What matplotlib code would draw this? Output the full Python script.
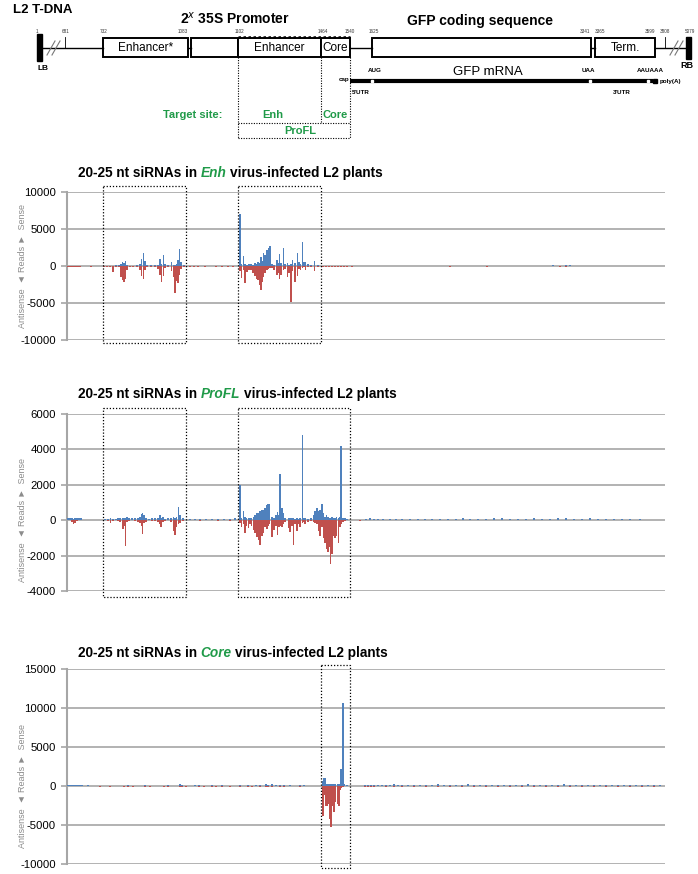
import matplotlib
matplotlib.use("Agg")
from matplotlib import pyplot as plt
from matplotlib.patches import Rectangle

plt.rcParams['font.family'] = ['Liberation Sans', 'DejaVu Sans']

BLUE = '#4f81bd'
RED = '#c0504d'
GREEN = '#1f9a48'
GRID = '#a6a6a6'

# map column along the T-DNA schematic, sense reads, antisense reads
enh_x = [68, 70, 72, 74, 76, 78, 80, 85, 91,
         104, 107, 110, 112.7, 116, 119, 121, 122.5, 124, 125.5, 127, 130, 133, 137, 140, 141.7, 143.3,
         145, 147, 151, 155, 158, 160, 161.7, 163.3, 165, 168, 171.7, 173.5, 175, 176.5, 178, 179.3, 181, 184,
         190, 194, 198, 205, 210, 216, 222, 228, 233,
         240, 241.7, 243.3, 245, 247, 249, 251, 253, 255, 256.7, 258, 259.3, 260.7, 262, 263.5, 265, 266.7,
         268.3, 270, 272, 274, 276.7, 278, 279.3, 281, 283.3, 285, 287.3, 289, 290.7, 292.5, 295, 297.3, 299,
         300.5, 302.3, 304, 305.5, 308, 311, 314.3, 318,
         323, 326, 329, 332, 335, 338, 341, 344, 347, 352, 358, 363, 370, 383, 400, 412, 425, 438, 450, 460,
         475, 487, 502, 512, 525, 540, 553, 560, 566, 570, 580, 590]
enh_sense = [0, 0, 0, 0, 0, 0, 0, 0, 0,
             0, 60, 0, 0, 80, 100, 300, 500, 350, 680, 200, 0, 60, 100, 300, 1000, 1700,
             700, 200, 80, 100, 200, 900, 300, 1500, 300, 100, 600, 200, 150, 300, 800, 2250, 500, 100,
             0, 0, 0, 0, 0, 0, 0, 0, 0,
             7000, 300, 1400, 300, 150, 250, 300, 200, 400, 250, 600, 400, 1250, 700, 1700, 1500, 2150,
             2400, 2700, 300, 200, 800, 400, 1600, 400, 2500, 300, 400, 200, 300, 800, 400, 1700, 500,
             300, 3300, 500, 600, 300, 100, 700, 100,
             0, 0, 0, 0, 0, 0, 0, 0, 0, 0, 60, 0, 60, 50, 60, 0, 50, 60, 0, 60,
             50, 0, 60, 40, 0, 60, 100, 60, 120, 80, 60, 50]
enh_anti = [-120, -120, -120, -120, -120, -100, -100, -60, -80,
            -80, -100, -150, -770, -100, -200, -1500, -1900, -2100, -1800, -600, -100, -150, -200, -600, -1400, -1700,
            -500, -150, -100, -150, -400, -1200, -2200, -1300, -300, -200, -700, -1500, -3700, -2000, -2350, -1200, -400, -100,
            -100, -120, -80, -100, -60, -100, -80, -100, -80,
            -700, -1600, -600, -2300, -800, -500, -600, -1000, -1300, -1800, -1900, -2500, -3200, -2200, -1500, -900, -600,
            -400, -300, -300, -500, -1200, -900, -1800, -1200, -600, -400, -1500, -1000, -4800, -700, -2100, -1300, -400,
            -500, -300, -200, -500, -200, -100, -700, -100,
            -150, -150, -150, -150, -150, -150, -150, -150, -100, -100, 0, -60, 0, -40, 0, -60, -50, 0, -80, -60,
            0, -80, 0, -40, -60, 0, -60, -80, -100, -60, -40, 0]

profl_x = [68, 70, 72, 73.5, 75, 77, 79, 81,
           105, 108, 110.5, 113, 116, 118, 120, 122.7, 124, 125.3, 126.7, 129, 132, 135, 138, 140, 141.7,
           142.7, 144, 146, 149, 152, 155, 158, 160, 161, 163, 165, 168, 171, 173.3, 175, 176.5, 178.3, 180, 183,
           190, 195, 200, 206, 212, 218, 224, 230, 235,
           240, 241.7, 243.3, 245, 246.7, 248.3, 250, 251.7, 253.3, 255, 256.7, 258.3, 260, 261.7, 263.3, 265,
           266.7, 268, 269.3, 271.7, 274, 275.7, 277.3, 278.7, 280, 281.7, 283.3, 285, 288.3, 290, 291.7, 293.3,
           295, 296.7, 298.5, 300, 302.3, 304, 305, 308, 311, 313.3, 315, 316.7, 318.3, 320, 321.7, 323.3, 325,
           326.5, 328, 329.3, 330.5, 332, 333.5, 335, 336.5, 338.3, 340, 341, 343, 345, 347,
           360, 366, 370, 374, 378, 383, 390, 396, 402, 410, 418, 425, 432, 440, 448, 456, 463, 470, 478, 486,
           494, 502, 510, 518, 526, 534, 542, 550, 558, 566, 574, 582, 590, 598, 606, 614, 622, 630, 640]
profl_sense = [100, 100, 100, 80, 100, 100, 100, 100,
               60, 80, 100, 60, 80, 100, 100, 150, 120, 150, 190, 100, 100, 120, 150, 200, 350,
               410, 300, 150, 80, 100, 120, 150, 280, 150, 200, 80, 100, 150, 200, 150, 200, 750, 300, 100,
               60, 80, 60, 50, 70, 50, 60, 80, 100,
               2000, 150, 530, 200, 150, 100, 150, 150, 190, 300, 380, 400, 500, 550, 600, 700,
               840, 900, 940, 200, 150, 300, 470, 300, 2600, 670, 400, 150, 120, 100, 150, 100,
               80, 100, 80, 100, 4800, 100, 100, 60, 100, 300, 500, 700, 500, 600, 940, 400, 200,
               300, 200, 150, 150, 200, 100, 150, 200, 150, 200, 4200, 150, 100, 80,
               0, 80, 100, 60, 80, 60, 50, 60, 80, 60, 50, 60, 80, 50, 70, 90, 100, 80, 60, 80,
               100, 120, 80, 60, 80, 100, 60, 80, 120, 100, 80, 60, 100, 60, 80, 60, 50, 60, 50]
profl_anti = [0, 0, -100, -190, -150, -60, 0, 0,
              0, -50, -150, -60, 0, -50, -80, -470, -300, -1460, -100, -50, 0, -60, -100, -150, -300,
              -790, -150, -80, 0, -50, -60, -80, -200, -410, -100, -50, 0, -100, -620, -850, -400, -200, -150, -50,
              0, 0, -30, 0, 0, -30, 0, -30, 0,
              -150, -380, -200, -730, -300, -450, -200, -300, -560, -730, -940, -1130, -1400, -900, -700, -400,
              -500, -300, -200, -940, -560, -300, -850, -400, -300, -400, -200, -100, -450, -680, -300, -1400,
              -200, -600, -200, -400, -150, -100, -200, -100, -50, -100, -150, -200, -600, -900, -400, -1000, -1300,
              -1600, -1800, -1500, -2500, -1900, -900, -1000, -900, -1300, -400, -200, -100, -50, 0,
              -40, 0, 0, 0, 0, 0, 0, 0, 0, 0, 0, 0, 0, 0, 0, 0, 0, 0, 0, 0,
              0, 0, 0, 0, 0, 0, 0, 0, 0, 0, 0, 0, 0, 0, 0, 0, 0, 0, 0]

core_x = [68, 70, 72, 74, 76, 78, 80, 82, 88, 100, 110, 116, 124, 128, 133, 140, 145, 150, 160, 164, 168,
          173, 180, 182, 186, 195, 199, 204, 208, 212, 216, 222, 230, 236, 240, 244, 248, 252, 256, 260, 266,
          268, 272, 276, 280, 284, 290, 296, 300, 304, 310, 316,
          322.7, 324, 325.3, 326.7, 328.3, 330, 331.2, 332.5, 334, 335.5, 337.3, 339, 340.2, 341, 342.7, 344.5, 347,
          365, 368, 371, 374, 378, 382, 386, 390, 394, 398, 402, 408, 414, 420, 426, 432, 438, 444, 450, 456,
          462, 468, 474, 480, 486, 492, 498, 504, 510, 516, 522, 528, 534, 540, 546, 552, 558, 564, 570, 576,
          582, 588, 594, 600, 606, 612, 618, 624, 630, 636, 642, 648, 654, 660]
core_sense = [150, 150, 150, 150, 150, 150, 150, 150, 80, 0, 50, 60, 0, 80, 0, 60, 80, 0, 60, 0, 100,
              0, 200, 150, 0, 80, 100, 0, 60, 100, 0, 100, 0, 60, 150, 60, 100, 0, 80, 150, 200,
              150, 200, 100, 150, 80, 100, 60, 150, 100, 0, 50,
              700, 990, 990, 300, 250, 300, 250, 250, 300, 250, 300, 300, 250, 2150, 10600, 200, 150,
              150, 150, 150, 100, 150, 120, 150, 150, 200, 150, 120, 150, 180, 150, 120, 150, 200, 150, 120, 150,
              150, 200, 150, 150, 120, 150, 180, 150, 150, 120, 150, 200, 150, 150, 120, 150, 150, 200, 150, 150,
              120, 150, 150, 150, 120, 150, 150, 120, 150, 150, 120, 150, 150, 120]
core_anti = [-50, -50, -50, -50, -50, -50, -60, -60, 0, -100, -80, 0, -100, -80, -100, 0, -100, -100, -60, -100, -80,
             -60, -100, -100, -80, -60, -100, -80, 0, -80, -80, -80, -100, -60, -100, 0, -100, -100, -60, -120, -100,
             -100, -100, -60, -150, -80, -60, -60, -100, 0, -60, -50,
             -3900, -1200, -2500, -2600, -2300, -4200, -5200, -2600, -3300, -2000, -2300, -2600, -500, -200, -100, -50, 0,
             -80, -100, -80, -80, -60, -60, -80, -60, -80, -60, -80, -60, -80, -60, -80, -60, -80, -60, -80, -60,
             -80, -60, -80, -60, -80, -60, -80, -60, -80, -60, -80, -60, -80, -60, -80, -60, -80, -60, -80, -60,
             -80, -60, -80, -60, -80, -60, -80, -60, -80, -60, -80, -60, -80, -60]

panels = [
    # name, x, sense, antisense, ticks, top px, bottom px, title px, boxes (x0, x1, y0, y1)
    ('Enh', enh_x, enh_sense, enh_anti, [-10000, -5000, 0, 5000, 10000], 192, 340, 173,
     [(103, 186, 186, 343), (238, 321, 186, 343)]),
    ('ProFL', profl_x, profl_sense, profl_anti, [-4000, -2000, 0, 2000, 4000, 6000], 414, 591, 394,
     [(103, 186, 408, 597), (238, 350, 408, 597)]),
    ('Core', core_x, core_sense, core_anti, [-10000, -5000, 0, 5000, 10000, 15000], 669, 864, 653,
     [(321, 350, 665, 868)]),
]

W, H = 698, 874
fig = plt.figure(figsize=(W / 100, H / 100), dpi=100)

for name, xs, sense, anti, ticks, top, bot, ty, boxes in panels:
    ax = fig.add_axes([67 / W, 1 - bot / H, (665 - 67) / W, (bot - top) / H])
    ax.bar(xs, sense, width=1.6, color=BLUE, linewidth=0, zorder=3)
    ax.bar(xs, anti, width=1.6, color=RED, linewidth=0, zorder=3)
    ax.set_xlim(67, 665)
    ax.set_ylim(ticks[0], ticks[-1])
    ax.set_yticks(ticks)
    ax.set_yticklabels([str(t) for t in ticks], fontsize=8.2)
    ax.yaxis.grid(True, color=GRID, linewidth=1.2, zorder=0)
    ax.set_axisbelow(True)
    ax.set_xticks([])
    for s in ['top', 'right', 'bottom']:
        ax.spines[s].set_visible(False)
    ax.spines['left'].set_color(GRID)
    ax.spines['left'].set_linewidth(1.5)
    ax.tick_params(axis='y', length=4, color=GRID, width=1.2, pad=4)
    ax.set_facecolor('none')

# overlay in pixel coordinates for the schematic, titles and boxes
ov = fig.add_axes([0, 0, 1, 1])
ov.set_xlim(0, W)
ov.set_ylim(H, 0)
ov.axis('off')
ov.patch.set_alpha(0)

renderer = fig.canvas.get_renderer()


def write_title(y, name):
    x = 78
    parts = [('20-25 nt siRNAs in', 'black', 'normal'), (name, GREEN, 'italic'),
             ('virus-infected L2 plants', 'black', 'normal')]
    for s, c, st in parts:
        t = ov.text(x, y, s, color=c, style=st, fontweight='bold', fontsize=9.8, va='center', ha='left')
        bb = t.get_window_extent(renderer)
        x += bb.width + 3.6


for name, xs, sense, anti, ticks, top, bot, ty, boxes in panels:
    write_title(ty, name)
    mid = top + (bot - top) * ticks[-1] / (ticks[-1] - ticks[0])
    ov.text(22, mid, 'Antisense  \u25c4 Reads \u25ba  Sense', rotation=90, fontsize=6.5,
            color='#8c8c8c', ha='center', va='center')
    for x0, x1, y0, y1 in boxes:
        ov.plot([x0, x1, x1, x0, x0], [y0, y0, y1, y1, y0], color='black', lw=0.9,
                linestyle=(0, (1, 1.5)))

# ---- T-DNA schematic ----
ov.text(13, 10, 'L2 T-DNA', fontsize=9.5, fontweight='bold', va='center')
ov.text(235, 19, '2$^x$ 35S Promoter', fontsize=10, fontweight='bold', ha='center', va='center')
ov.text(480, 21, 'GFP coding sequence', fontsize=10, fontweight='bold', ha='center', va='center')

ov.plot([41, 103], [48, 48], color='black', lw=1)
ov.plot([188, 191], [48, 48], color='black', lw=1)
ov.plot([350, 372], [48, 48], color='black', lw=1)
ov.plot([591, 595], [48, 48], color='black', lw=1)
ov.plot([655, 686], [48, 48], color='black', lw=1)
for sx in [47, 52]:
    ov.plot([sx, sx + 8], [55, 41], color='#777777', lw=0.8)
for sx in [670, 675]:
    ov.plot([sx, sx + 8], [55, 41], color='#777777', lw=0.8)
ov.plot([65, 65], [37, 48], color='black', lw=0.6)
ov.plot([665, 665], [37, 48], color='black', lw=0.6)

ov.add_patch(Rectangle((37, 34), 5, 27, color='black'))
ov.add_patch(Rectangle((686, 37), 5, 22, color='black'))
ov.text(38, 68, 'LB', fontsize=6, fontweight='bold', va='center')
ov.text(680, 66, 'RB', fontsize=6.5, fontweight='bold', va='center')

blocks = [(103, 188, 'Enhancer*'), (191, 238, ''), (238, 321, 'Enhancer'), (321, 350, 'Core'),
          (372, 591, ''), (595, 655, 'Term.')]
for x0, x1, lab in blocks:
    ov.add_patch(Rectangle((x0, 38), x1 - x0, 19, facecolor='white', edgecolor='black', lw=1.4))
    if lab:
        ov.text((x0 + x1) / 2, 48, lab, fontsize=8.5, ha='center', va='center')

nums = [(36, '1', 'left'), (62, '681', 'left'), (100, '732', 'left'), (188, '1083', 'right'),
        (235, '1102', 'left'), (318, '1464', 'left'), (345, '1540', 'left'), (369, '1625', 'left'),
        (590, '3341', 'right'), (595, '3365', 'left'), (655, '3599', 'right'), (660, '3808', 'left'),
        (685, '5079', 'left')]
for x, s, ha in nums:
    ov.text(x, 34, s, fontsize=3.3, ha=ha, va='bottom', color='#333333')

# dotted outline of the target region
ov.plot([238, 350], [37, 37], color='black', lw=1.8, linestyle=(0, (1, 1)))
dot = dict(color='black', lw=0.8, linestyle=(0, (1, 1.3)))
ov.plot([238, 238], [57, 138], **dot)
ov.plot([321, 321], [57, 123], **dot)
ov.plot([350, 350], [57, 138], **dot)
ov.plot([238, 350], [123, 123], **dot)
ov.plot([238, 350], [138, 138], **dot)
ov.text(193, 115, 'Target site:', fontsize=8, fontweight='bold', color=GREEN, ha='center', va='center')
ov.text(273, 115, 'Enh', fontsize=8, fontweight='bold', color=GREEN, ha='center', va='center')
ov.text(335, 115, 'Core', fontsize=8, fontweight='bold', color=GREEN, ha='center', va='center')
ov.text(300, 131, 'ProFL', fontsize=8, fontweight='bold', color=GREEN, ha='center', va='center')

# GFP mRNA
ov.plot([350, 653], [81, 81], color='black', lw=3, solid_capstyle='butt')
for mx in [372, 590, 648]:
    ov.plot([mx], [81], marker='s', ms=2, color='white')
ov.plot([655], [81], marker='s', ms=2.5, color='black')
ov.text(349, 80, 'cap', fontsize=4.5, fontweight='bold', ha='right', va='center')
ov.text(660, 81, 'poly(A)', fontsize=4.5, fontweight='bold', ha='left', va='center')
ov.text(375, 71, 'AUG', fontsize=4.5, fontweight='bold', ha='center', va='center')
ov.text(588, 71, 'UAA', fontsize=4.5, fontweight='bold', ha='center', va='center')
ov.text(650, 71, 'AAUAAA', fontsize=4.5, fontweight='bold', ha='center', va='center')
ov.text(488, 72, 'GFP mRNA', fontsize=9.5, ha='center', va='center')
ov.text(352, 92, "5'UTR", fontsize=4.5, fontweight='bold', ha='left', va='center')
ov.text(613, 92, "3'UTR", fontsize=4.5, fontweight='bold', ha='left', va='center')

fig.savefig('out.png', dpi=100)
